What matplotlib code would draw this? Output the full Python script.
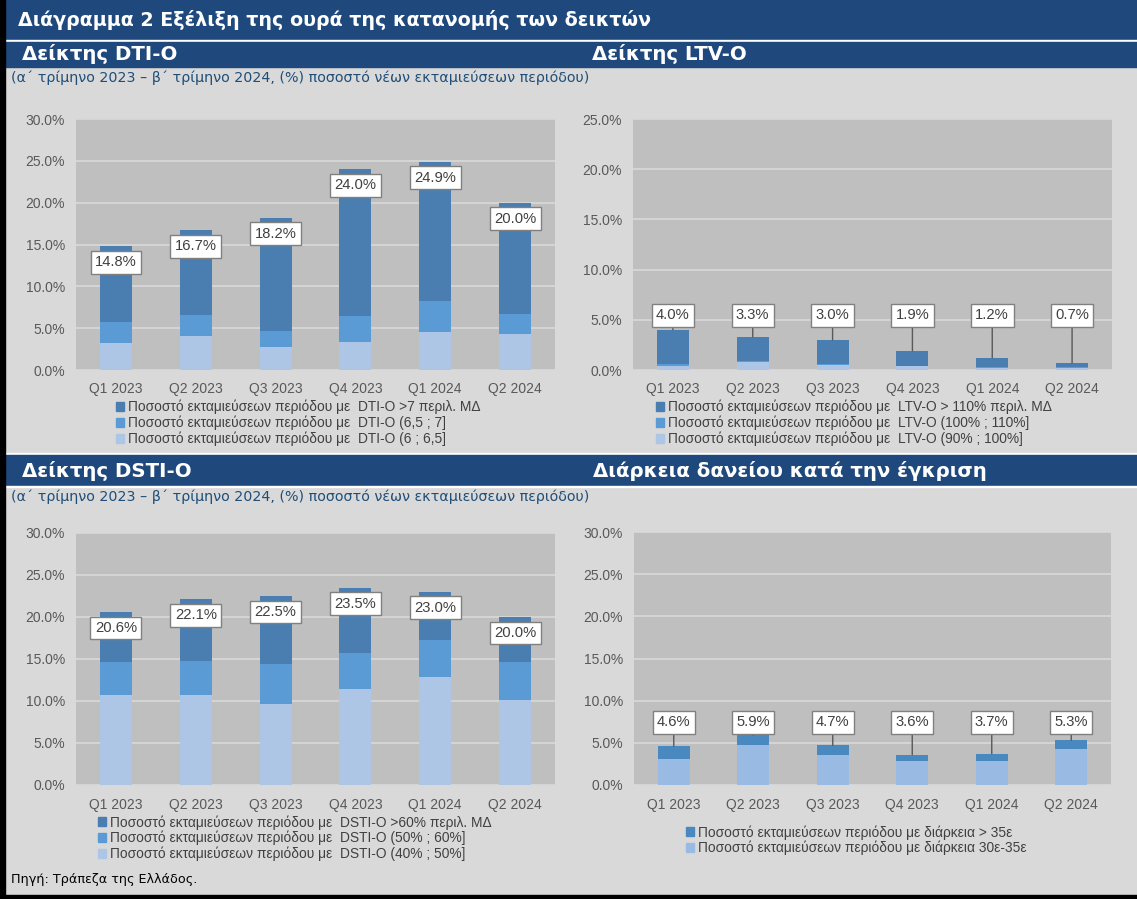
import numpy as np
import matplotlib
matplotlib.use("Agg")
import matplotlib.pyplot as plt
from matplotlib.patches import Rectangle, Patch

# data (% of new disbursements in the period)
quarters = ["Q1 2023", "Q2 2023", "Q3 2023", "Q4 2023", "Q1 2024", "Q2 2024"]

dti_high = [9.1, 10.1, 13.5, 17.5, 16.7, 13.3]
dti_mid = [2.5, 2.5, 1.9, 3.2, 3.7, 2.4]
dti_low = [3.2, 4.1, 2.8, 3.3, 4.5, 4.3]
dti_total = [14.8, 16.7, 18.2, 24.0, 24.9, 20.0]

ltv_high = [3.4, 2.4, 2.4, 1.5, 0.9, 0.4]
ltv_mid = [0.2, 0.1, 0.1, 0.05, 0.1, 0.1]
ltv_low = [0.4, 0.8, 0.5, 0.35, 0.2, 0.2]
ltv_total = [4.0, 3.3, 3.0, 1.9, 1.2, 0.7]

dsti_high = [5.9, 7.3, 8.1, 7.8, 5.7, 5.4]
dsti_mid = [4.0, 4.1, 4.8, 4.3, 4.4, 4.5]
dsti_low = [10.7, 10.7, 9.6, 11.4, 12.9, 10.1]
dsti_total = [20.6, 22.1, 22.5, 23.5, 23.0, 20.0]

dur_high = [1.5, 1.1, 1.2, 0.8, 0.9, 1.0]
dur_low = [3.1, 4.8, 3.5, 2.8, 2.8, 4.3]
dur_total = [4.6, 5.9, 4.7, 3.6, 3.7, 5.3]

pre = "Ποσοστό εκταμιεύσεων περιόδου με  "
dti_labels = [pre + "DTI-O >7 περιλ. ΜΔ", pre + "DTI-O (6,5 ; 7]", pre + "DTI-O (6 ; 6,5]"]
ltv_labels = [pre + "LTV-O > 110% περιλ. ΜΔ", pre + "LTV-O (100% ; 110%]", pre + "LTV-O (90% ; 100%]"]
dsti_labels = [pre + "DSTI-O >60% περιλ. ΜΔ", pre + "DSTI-O (50% ; 60%]", pre + "DSTI-O (40% ; 50%]"]
dur_labels = ["Ποσοστό εκταμιεύσεων περιόδου με διάρκεια > 35ε",
              "Ποσοστό εκταμιεύσεων περιόδου με διάρκεια 30ε-35ε"]

title = "Διάγραμμα 2 Εξέλιξη της ουρά της κατανομής των δεικτών"
subtitle = "(α΄ τρίμηνο 2023 – β΄ τρίμηνο 2024, (%) ποσοστό νέων εκταμιεύσεων περιόδου)"

NAVY = "#1f497d"
BG = "#d9d9d9"
PLOT_BG = "#bfbfbf"
DARK, MID, LIGHT = "#4a7eb0", "#5b9bd5", "#adc6e6"
DUR_DARK, DUR_LIGHT = "#4a88c0", "#99bbe3"
TICK = "#595959"

W, H = 1137, 899
fig = plt.figure(figsize=(W / 100, H / 100), dpi=100, facecolor=BG)


def rect(x0, y0, x1, y1, color):
    # pixel box (top-left origin) -> figure rectangle
    fig.patches.append(Rectangle((x0 / W, 1 - y1 / H), (x1 - x0) / W, (y1 - y0) / H,
                                 transform=fig.transFigure, color=color, zorder=0))


def ftext(x, y, s, **kw):
    fig.text(x / W, 1 - y / H, s, va="center", ha="left", **kw)


# header bands
rect(0, 0, W, 40, NAVY)
rect(0, 40, W, 42, "white")
rect(0, 42, W, 67, NAVY)
rect(0, 453, W, 455, "white")
rect(0, 455, W, 486, NAVY)
rect(0, 486, W, 487, "white")
# frame
rect(0, 0, 5, H, "black")
rect(0, 895, W, H, "black")

hfont = dict(family="DejaVu Sans", fontweight="bold", color="white")
ftext(18, 20, title, fontsize=13.7, **hfont)
ftext(22, 54, "Δείκτης DTI-O", fontsize=14.2, **hfont)
ftext(592, 54, "Δείκτης LTV-O", fontsize=14.2, **hfont)
ftext(22, 471, "Δείκτης DSTI-O", fontsize=14.2, **hfont)
ftext(593, 471, "Διάρκεια δανείου κατά την έγκριση", fontsize=14.2, **hfont)

sfont = dict(family="DejaVu Sans", color="#1f4e79", fontsize=10.3)
ftext(11, 78, subtitle, **sfont)
ftext(11, 497, subtitle, **sfont)
ftext(11, 879, "Πηγή: Τράπεζα της Ελλάδος.", family="DejaVu Sans", color="black", fontsize=9.2)


def make_axes(px0, py0, px1, py1, ymax):
    ax = fig.add_axes([px0 / W, 1 - py1 / H, (px1 - px0) / W, (py1 - py0) / H])
    ax.set_facecolor(PLOT_BG)
    ax.set_xlim(-0.5, len(quarters) - 0.5)
    ax.set_ylim(0, ymax)
    ax.set_yticks(np.arange(0, ymax + 0.1, 5))
    ax.set_yticklabels([f"{v:.1f}%" for v in np.arange(0, ymax + 0.1, 5)])
    ax.set_xticks(range(len(quarters)))
    ax.set_xticklabels(quarters)
    ax.tick_params(length=0, colors=TICK, labelsize=10, pad=9)
    ax.tick_params(axis="y", pad=8)
    for lab in ax.get_xticklabels() + ax.get_yticklabels():
        lab.set_family("Liberation Sans")
    for sp in ax.spines.values():
        sp.set_visible(False)
    ax.grid(axis="y", color=BG, lw=1.2)
    ax.set_axisbelow(True)
    return ax


def stack(ax, series, colors):
    x = np.arange(len(quarters))
    bottom = np.zeros(len(quarters))
    for vals, c in zip(series, colors):
        ax.bar(x, vals, 0.4, bottom=bottom, color=c, zorder=2)
        bottom += np.array(vals)


bbox = dict(boxstyle="square,pad=0.3", fc="white", ec="#808080", lw=1)


def inner_labels(ax, totals):
    for i, t in enumerate(totals):
        ax.annotate(f"{t:.1f}%", (i, t), xytext=(0, -16), textcoords="offset pixels",
                    ha="center", va="center", fontsize=10.6, family="Liberation Sans",
                    color="#404040", bbox=bbox, zorder=5)


def leader_labels(ax, totals, ylab):
    for i, t in enumerate(totals):
        ax.annotate(f"{t:.1f}%", (i, t), xytext=(i, ylab), textcoords="data",
                    ha="center", va="center", fontsize=10.6, family="Liberation Sans",
                    color="#404040", bbox=bbox, zorder=5,
                    arrowprops=dict(arrowstyle="-", color="#595959", lw=1,
                                    shrinkA=0, shrinkB=0))


def legend(labels, colors, x, y):
    handles = [Patch(color=c, label=l) for l, c in zip(labels, colors)]
    fig.legend(handles=handles, loc="upper left", bbox_to_anchor=(x / W, 1 - y / H),
               frameon=False, handlelength=0.6, handleheight=0.6, handletextpad=0.3,
               labelspacing=0.1, borderpad=0, borderaxespad=0,
               prop=dict(family="Liberation Sans", size=9.9), labelcolor="#404040")


# DTI-O
ax1 = make_axes(76, 119, 555, 370, 30)
stack(ax1, [dti_low, dti_mid, dti_high], [LIGHT, MID, DARK])
inner_labels(ax1, dti_total)
legend(dti_labels, [DARK, MID, LIGHT], 116, 400)

# LTV-O
ax2 = make_axes(633, 119, 1112, 370, 25)
stack(ax2, [ltv_low, ltv_mid, ltv_high], [LIGHT, MID, DARK])
leader_labels(ax2, ltv_total, 5.45)
legend(ltv_labels, [DARK, MID, LIGHT], 656, 400)

# DSTI-O
ax3 = make_axes(76, 533, 555, 785, 30)
stack(ax3, [dsti_low, dsti_mid, dsti_high], [LIGHT, MID, DARK])
inner_labels(ax3, dsti_total)
legend(dsti_labels, [DARK, MID, LIGHT], 98, 815)

# loan duration
ax4 = make_axes(634, 532, 1111, 785, 30)
stack(ax4, [dur_low, dur_high], [DUR_LIGHT, DUR_DARK])
leader_labels(ax4, dur_total, 7.45)
legend(dur_labels, [DUR_DARK, DUR_LIGHT], 686, 825)

fig.savefig("out.png", dpi=100, facecolor=BG)
